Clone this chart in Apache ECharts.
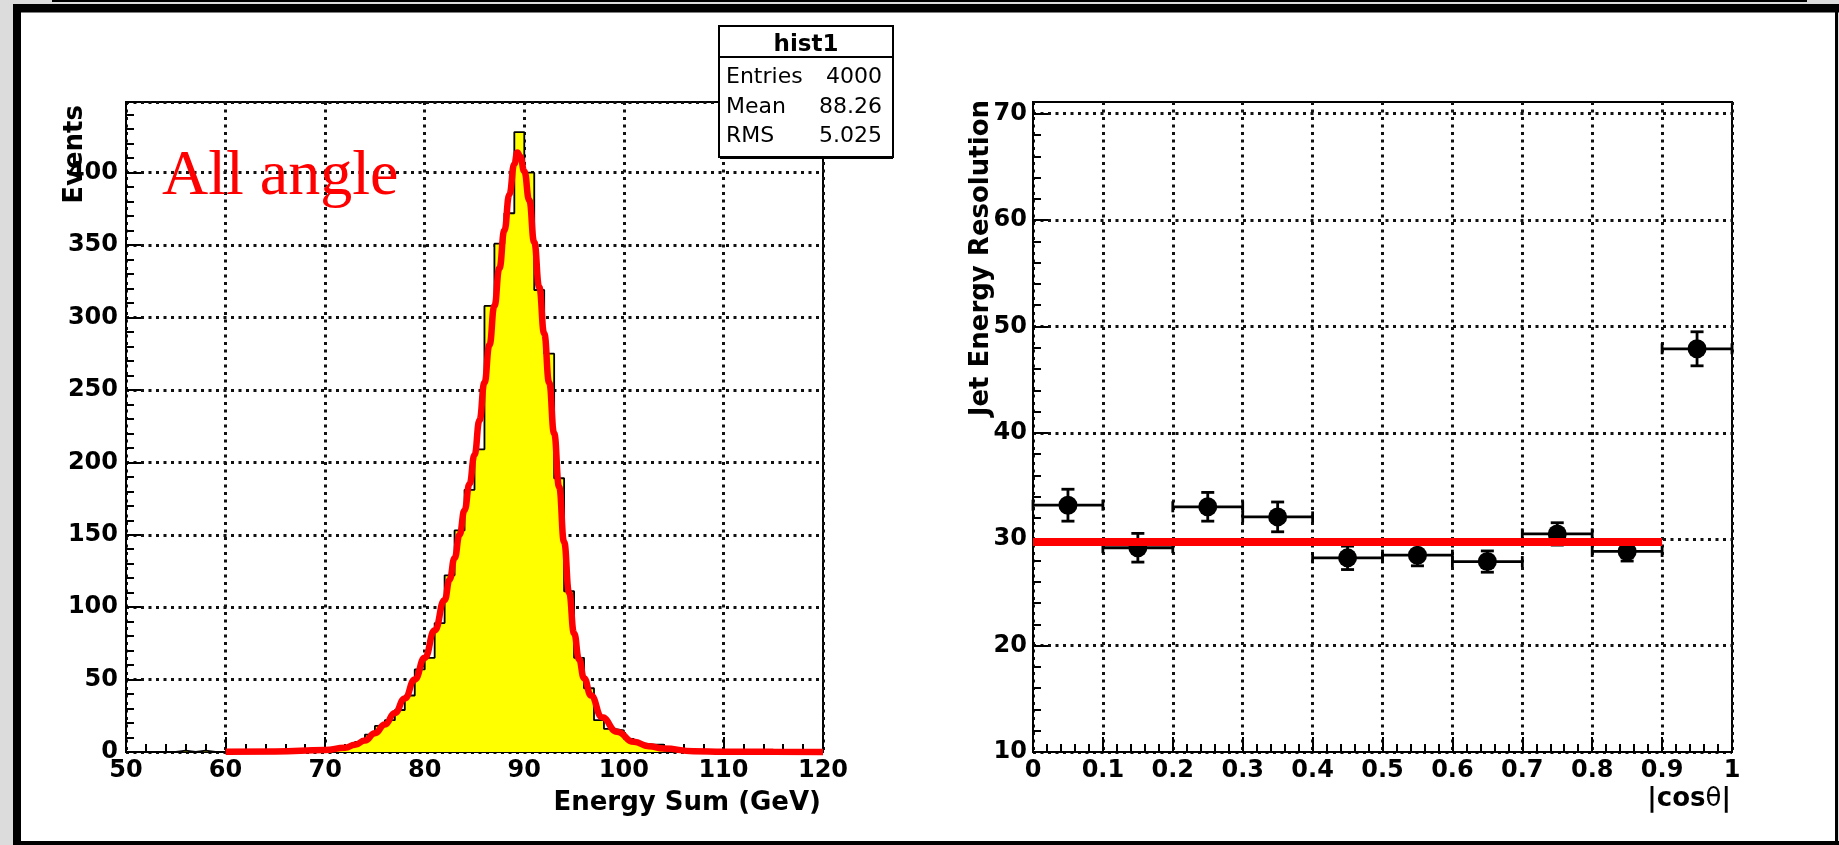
<!DOCTYPE html>
<html>
<head>
<meta charset="utf-8">
<script src="https://cdn.jsdelivr.net/npm/echarts@6/dist/echarts.min.js"></script>
<style>
html,body{margin:0;padding:0;background:#dcdcdc;}
#c{width:1839px;height:845px;}
</style>
</head>
<body>
<div id="c"></div>
<script>
// ---------- Left panel: histogram "hist1" ----------
const histStart = 50;
const histBinWidth = 1;
const histContents = [
  0,0,0,0,0,1,0,1,0,0,
  1,0,0,0,1,0,1,0,1,2,
  2,3,4,7,12,18,22,29,39,57,
  65,89,122,153,181,209,308,351,372,428,
  400,319,275,189,111,65,44,22,16,15,
  9,6,5,5,1,1,0,1,0,0,
  0,0,1,0,0,0,0,0,0,0
];
// fitted curve
const fitX = [60,65,70,72,73,74,75,76,77,78,79,80,81,82,82.5,83,83.5,84,84.5,85,
  85.5,86,86.5,87,87.5,88,88.5,89,89.3,89.6,90,90.5,91,91.5,92,92.5,93,93.5,94,94.5,
  95,95.5,96,96.7,97.8,99.3,101,102.5,104,107,110,115,120];
const fitY = [0.1,0.4,1.3,3,5,8,13,19,27,37,50,65,84,105,119,134,150,167,185,205,
  229,255,281,308,334,360,385,406,414,411,401,381,352,321,289,255,220,183,145,110,
  82,64,51,39,24,14,7,4,2.4,0.6,0.2,0.1,0.05];
const statNames = ['Entries','Mean','RMS'];
const statValues = ['4000','88.26','5.025'];

// ---------- Right panel: resolution vs |cos theta| ----------
const cosX = [0.05,0.15,0.25,0.35,0.45,0.55,0.65,0.75,0.85,0.95];
const cosXErr = [0.05,0.05,0.05,0.05,0.05,0.05,0.05,0.05,0.05,0.05];
const resY = [33.2,29.2,33.05,32.1,28.25,28.5,27.9,30.5,28.85,47.9];
const resYErr = [1.5,1.35,1.35,1.4,1.1,1.0,1.0,1.05,0.9,1.6];
const resFitX = [0, 0.9];
const resFitY = [29.75, 29.75];
const rightMajorTicks = [10,20,30,40,50,60,70];
const rightMinorTicks = [12,14,16,18,22,24,26,28,32,34,36,38,42,44,46,48,52,54,56,58,62,64,66,68];

// ---------- build ----------
const histData = histContents.map((v,i)=>[histStart + i*histBinWidth, v]);
histData.push([histStart + histContents.length*histBinWidth, histContents[histContents.length-1]]);
const fitData = fitX.map((x,i)=>[x, fitY[i]]);
const resData = cosX.map((x,i)=>[x, resY[i], cosXErr[i], resYErr[i]]);
const resFitData = resFitX.map((x,i)=>[x, resFitY[i]]);

const FONT = 'DejaVu Sans';
const BLACK = '#000';
function axisBase(extra){
  return Object.assign({
    type:'value',
    axisLine:{show:true, onZero:false, lineStyle:{color:BLACK, width:2}},
    axisTick:{show:true, inside:true, length:15, lineStyle:{color:BLACK, width:2}},
    minorTick:{show:true, splitNumber:5, length:8, lineStyle:{color:BLACK, width:2}},
    axisLabel:{color:BLACK, fontFamily:FONT, fontWeight:'bold', fontSize:24, margin:7},
    splitLine:{show:true, lineStyle:{color:'#111', width:3, type:[3,4.5]}},
    minorSplitLine:{show:false}
  }, extra);
}

const chart = echarts.init(document.getElementById('c'), null, {renderer:'canvas'});
const option = {
  animation:false,
  backgroundColor:'#ffffff',
  grid:[
    {left:126, top:102, width:697, height:650, show:true, borderColor:BLACK, borderWidth:2, backgroundColor:'rgba(0,0,0,0)'},
    {left:1033, top:102, width:699, height:650, show:true, borderColor:BLACK, borderWidth:2, backgroundColor:'rgba(0,0,0,0)'}
  ],
  xAxis:[
    axisBase({gridIndex:0, min:50, max:120, interval:10}),
    axisBase({gridIndex:1, min:0, max:1, interval:0.1})
  ],
  yAxis:[
    axisBase({gridIndex:0, min:0, max:448.8, interval:50,
      axisLabel:{color:BLACK, fontFamily:FONT, fontWeight:'bold', fontSize:24, margin:8, showMaxLabel:false}}),
    axisBase({gridIndex:1, min:10, max:71.1, interval:10,
      axisTick:{show:true, inside:true, length:15, customValues:rightMajorTicks, lineStyle:{color:BLACK, width:2}},
      minorTick:{show:false},
      axisLabel:{color:BLACK, fontFamily:FONT, fontWeight:'bold', fontSize:24, margin:6, showMaxLabel:false}}),
    {type:'value', gridIndex:1, min:10, max:71.1, position:'left',
      axisLine:{show:false}, axisLabel:{show:false}, splitLine:{show:false},
      axisTick:{show:true, inside:true, length:8, customValues:rightMinorTicks, lineStyle:{color:BLACK, width:2}}}
  ],
  series:[
    {name:'hist1', type:'line', xAxisIndex:0, yAxisIndex:0, step:'end', data:histData,
      symbol:'none', lineStyle:{color:BLACK, width:1.8}, areaStyle:{color:'#ffff00', opacity:1}, z:2},
    {name:'fit', type:'line', xAxisIndex:0, yAxisIndex:0, data:fitData, smooth:0.5, smoothMonotone:'x',
      symbol:'none', clip:false, lineStyle:{color:'#ff0000', width:6.5}, z:4},
    {name:'resolution', type:'custom', xAxisIndex:1, yAxisIndex:1, data:resData,
      encode:{x:0, y:1}, z:3,
      renderItem:function(params, api){
        const x = api.value(0), y = api.value(1), xe = api.value(2), ye = api.value(3);
        const c = api.coord([x, y]);
        const l = api.coord([x - xe, y]);
        const r = api.coord([x + xe, y]);
        const t = api.coord([x, y + ye]);
        const b = api.coord([x, y - ye]);
        const st = {stroke:BLACK, lineWidth:2.8};
        const cap = 6.5, endH = 5.5;
        return {type:'group', children:[
          {type:'line', shape:{x1:l[0], y1:c[1], x2:r[0], y2:c[1]}, style:st},
          {type:'line', shape:{x1:l[0], y1:c[1]-endH, x2:l[0], y2:c[1]+endH}, style:st},
          {type:'line', shape:{x1:r[0], y1:c[1]-endH, x2:r[0], y2:c[1]+endH}, style:st},
          {type:'line', shape:{x1:c[0], y1:t[1], x2:c[0], y2:b[1]}, style:st},
          {type:'line', shape:{x1:c[0]-cap, y1:t[1], x2:c[0]+cap, y2:t[1]}, style:st},
          {type:'line', shape:{x1:c[0]-cap, y1:b[1], x2:c[0]+cap, y2:b[1]}, style:st},
          {type:'circle', shape:{cx:c[0], cy:c[1], r:9.5}, style:{fill:BLACK}}
        ]};
      }},
    {name:'const fit', type:'line', xAxisIndex:1, yAxisIndex:1, data:resFitData,
      symbol:'none', lineStyle:{color:'#ff0000', width:8}, z:5}
  ],
  graphic:[
    // outer canvas frame
    {type:'rect', z:50, shape:{x:0, y:0, width:13, height:845}, style:{fill:'#dcdcdc'}},
    {type:'rect', z:50, shape:{x:0, y:0, width:1839, height:4}, style:{fill:'#dcdcdc'}},
    {type:'rect', z:51, shape:{x:52, y:0, width:1755, height:2}, style:{fill:'#000'}},
    {type:'rect', z:51, shape:{x:13, y:4, width:1826, height:8.5}, style:{fill:'#000'}},
    {type:'rect', z:51, shape:{x:13, y:4, width:8, height:841}, style:{fill:'#000'}},
    {type:'rect', z:51, shape:{x:13, y:841, width:1826, height:4}, style:{fill:'#000'}},
    {type:'rect', z:51, shape:{x:1835, y:4, width:3, height:841}, style:{fill:'#000'}},
    {type:'rect', z:50, shape:{x:1838, y:0, width:1, height:845}, style:{fill:'#dcdcdc'}},
    // axis titles
    {type:'text', z:60, x:821, y:803, style:{text:'Energy Sum (GeV)', fill:BLACK,
      font:'bold 26px "DejaVu Sans"', align:'right', verticalAlign:'middle'}},
    {type:'text', z:60, x:75, y:105, rotation:Math.PI/2, style:{text:'Events', fill:BLACK,
      font:'bold 26px "DejaVu Sans"', align:'right', verticalAlign:'middle'}},
    {type:'text', z:60, x:981, y:100, rotation:Math.PI/2, style:{text:'Jet Energy Resolution', fill:BLACK,
      font:'bold 26px "DejaVu Sans"', align:'right', verticalAlign:'middle'}},
    {type:'text', z:60, x:1731, y:799, style:{text:'{b||cos}{t|θ}{b||}', align:'right', verticalAlign:'middle',
      rich:{b:{fontFamily:FONT, fontWeight:'bold', fontSize:26, fill:BLACK},
            t:{fontFamily:FONT, fontWeight:'normal', fontSize:26, fill:BLACK}}}},
    // annotation
    {type:'text', z:60, x:162, y:177, style:{text:'All angle', fill:'#ff0000',
      font:'64px "Liberation Serif"', align:'left', verticalAlign:'middle'}},
    // stats box
    {type:'rect', z:70, shape:{x:719, y:26, width:174, height:131}, style:{fill:'#fff', stroke:BLACK, lineWidth:2}},
    {type:'line', z:71, shape:{x1:720, y1:157.5, x2:893, y2:157.5}, style:{stroke:BLACK, lineWidth:3}},
    {type:'line', z:71, shape:{x1:719, y1:57, x2:893, y2:57}, style:{stroke:BLACK, lineWidth:2}},
    {type:'text', z:72, x:806, y:45, style:{text:'hist1', fill:BLACK, font:'bold 23px "DejaVu Sans"', align:'center', verticalAlign:'middle'}},
    {type:'text', z:72, x:726, y:77, style:{text:statNames[0], fill:BLACK, font:'22px "DejaVu Sans"', align:'left', verticalAlign:'middle'}},
    {type:'text', z:72, x:726, y:107, style:{text:statNames[1], fill:BLACK, font:'22px "DejaVu Sans"', align:'left', verticalAlign:'middle'}},
    {type:'text', z:72, x:726, y:136, style:{text:statNames[2], fill:BLACK, font:'22px "DejaVu Sans"', align:'left', verticalAlign:'middle'}},
    {type:'text', z:72, x:882, y:77, style:{text:statValues[0], fill:BLACK, font:'22px "DejaVu Sans"', align:'right', verticalAlign:'middle'}},
    {type:'text', z:72, x:882, y:107, style:{text:statValues[1], fill:BLACK, font:'22px "DejaVu Sans"', align:'right', verticalAlign:'middle'}},
    {type:'text', z:72, x:882, y:136, style:{text:statValues[2], fill:BLACK, font:'22px "DejaVu Sans"', align:'right', verticalAlign:'middle'}}
  ]
};
chart.setOption(option);
</script>
</body>
</html>
